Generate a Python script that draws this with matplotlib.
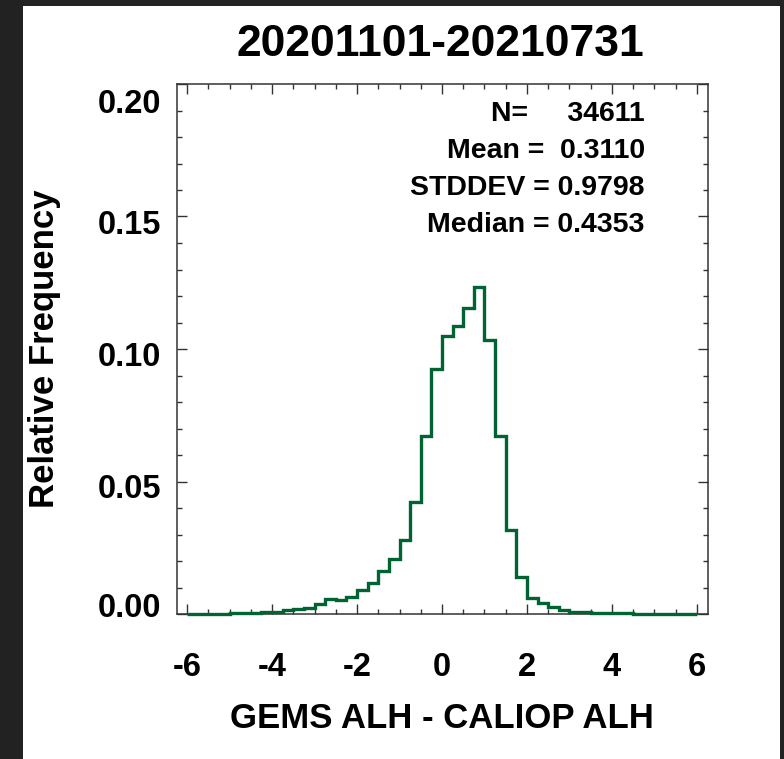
import numpy as np
import matplotlib
matplotlib.use("Agg")
import matplotlib.pyplot as plt
from matplotlib.patches import Rectangle
from matplotlib.ticker import MultipleLocator, FormatStrFormatter
from matplotlib.transforms import ScaledTranslation

# histogram of GEMS ALH - CALIOP ALH (bin width 0.25 km, -6 .. 6)
bin_start = -6.0
bin_width = 0.25
rel_freq = [
    0.0001, 0.0001, 0.0001, 0.0001, 0.0002, 0.0002, 0.0003, 0.0006,
    0.0008, 0.0014, 0.0020, 0.0021, 0.0038, 0.0055, 0.0052, 0.0063,
    0.0089, 0.0116, 0.0163, 0.0207, 0.0278, 0.0424, 0.0672, 0.0924,
    0.1050, 0.1085, 0.1155, 0.1233, 0.1033, 0.0672, 0.0317, 0.0140,
    0.0059, 0.0040, 0.0025, 0.0015, 0.0009, 0.0008, 0.0005, 0.0003,
    0.0002, 0.0002, 0.0001, 0.0001, 0.0001, 0.0001, 0.0000, 0.0001,
]
stats_lines = ["N=     34611", "Mean =  0.3110", "STDDEV = 0.9798", "Median = 0.4353"]
title = "20201101-20210731"

plt.rcParams['font.family'] = ['Liberation Sans', 'DejaVu Sans']
plt.rcParams['font.weight'] = 'bold'
plt.rcParams['axes.labelweight'] = 'bold'
plt.rcParams['axes.unicode_minus'] = False

fig = plt.figure(figsize=(7.84, 7.59), dpi=100, facecolor='#222222')
# white panel of the screenshot
fig.patches.append(Rectangle((23 / 784, 0), (780 - 23) / 784, (759 - 6) / 759,
                             transform=fig.transFigure, facecolor='white',
                             edgecolor='none', zorder=-10))

ax = fig.add_axes([176.5 / 784, 145 / 759, 531 / 784, 530 / 759])
ax.set_zorder(5)

edges = bin_start + bin_width * np.arange(len(rel_freq) + 1)
ax.stairs(rel_freq, edges, baseline=None, color='#006432', lw=2.4,
          zorder=3, clip_on=False)

ax.set_xlim(-6.25, 6.25)
ax.set_ylim(0, 0.20)
ax.xaxis.set_major_locator(MultipleLocator(2))
ax.xaxis.set_minor_locator(MultipleLocator(0.5))
ax.yaxis.set_major_locator(MultipleLocator(0.05))
ax.yaxis.set_minor_locator(MultipleLocator(0.01))
ax.yaxis.set_major_formatter(FormatStrFormatter('%.2f'))

for sp in ax.spines.values():
    sp.set_linewidth(1.1)
    sp.set_color('#333333')
ax.tick_params(which='both', direction='in', top=True, right=True,
               color='#333333', width=1.0, labelsize=23.5)
ax.tick_params(which='major', length=7.5)
ax.tick_params(which='minor', length=3.6)
ax.tick_params(axis='x', which='major', pad=27)
ax.tick_params(axis='y', which='major', pad=11)

# IDL pushes the end labels inward
fig.canvas.draw()
shifts = {0.0: 9, 0.05: -4, 0.10: -5, 0.15: -5, 0.20: -17}
for tk in ax.yaxis.get_major_ticks():
    dy = shifts.get(round(tk.get_loc(), 2), 0)
    lbl = tk.label1
    lbl.set_transform(lbl.get_transform() + ScaledTranslation(0, dy / 100, fig.dpi_scale_trans))

ax.set_xlabel("GEMS ALH - CALIOP ALH", fontsize=25, fontweight='bold', va='center')
ax.xaxis.set_label_coords(0.5, (41 - 145) / 530)
ax.set_ylabel("Relative Frequency", fontsize=25, fontweight='bold', va='center')
ax.yaxis.set_label_coords((45 - 176.5) / 531, 0.5)

fig.text(440 / 784, (759 - 45) / 759, title, fontsize=32, ha='center', va='center')

for i, s in enumerate(stats_lines):
    ax.text(0.882, (614 - (114 + 37 * i)) / 530, s, transform=ax.transAxes,
            ha='right', va='center', fontsize=20.5)

fig.savefig("out.png", dpi=100, facecolor=fig.get_facecolor())
